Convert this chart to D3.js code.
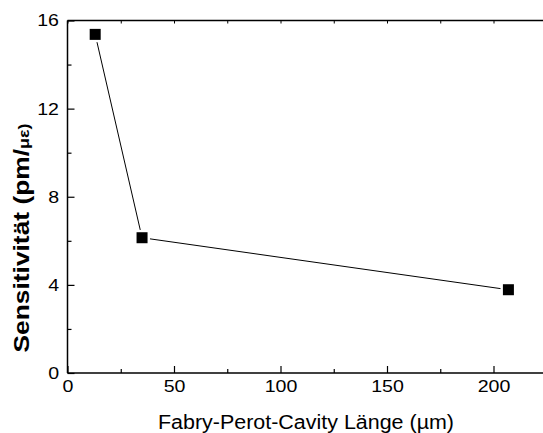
<!DOCTYPE html>
<html><head><meta charset="utf-8">
<script src="https://cdn.jsdelivr.net/npm/d3@7"></script>
<style>body{margin:0;background:#fff}svg{display:block;font-family:"Liberation Sans",Arial,sans-serif}</style>
</head><body><svg id="c" width="543" height="433"></svg>
<script>
const lengths = [13, 35, 207];
const sensitivity = [15.37, 6.14, 3.78];
const xTicks = [0, 50, 100, 150, 200];
const xMinor = [25, 75, 125, 175, 225];
const yTicks = [0, 4, 8, 12, 16];
const yMinor = [2, 6, 10, 14];

const svg = d3.select("#c");
const x = d3.scaleLinear().domain([0, 50]).range([67.5, 174]);
const y = d3.scaleLinear().domain([0, 16]).range([373, 20.5]);
const right = 543;
const FF = "Liberation Sans, Arial, sans-serif";
const stretch = sel => sel.each(function () {
  const w = this.getComputedTextLength();
  d3.select(this).attr("textLength", w * 1.15).attr("lengthAdjust", "spacingAndGlyphs");
});

// axes frame lines
svg.append("line").attr("x1", x(0)).attr("x2", right).attr("y1", y(0)).attr("y2", y(0)).attr("stroke", "#000").attr("stroke-width", 1.5);
svg.append("line").attr("x1", x(0)).attr("x2", right).attr("y1", y(16)).attr("y2", y(16)).attr("stroke", "#000").attr("stroke-width", 1.5);
svg.append("line").attr("x1", x(0)).attr("x2", x(0)).attr("y1", y(0)).attr("y2", y(16)).attr("stroke", "#000").attr("stroke-width", 1.5);

// bottom axis
const gx = svg.append("g").attr("transform", `translate(0,${y(0)})`)
  .call(d3.axisBottom(x).tickValues(xTicks).tickSize(-7).tickPadding(7).tickFormat(d3.format("d")));
gx.select(".domain").remove();
gx.selectAll("text").attr("font-size", 17).attr("fill", "#000").attr("font-family", FF).call(stretch);
gx.selectAll("line").attr("stroke-width", 1.2);
svg.append("g").attr("transform", `translate(0,${y(0)})`)
  .call(d3.axisBottom(x).tickValues(xMinor).tickSize(-4).tickFormat(""))
  .call(g => g.select(".domain").remove()).selectAll("line").attr("stroke-width", 1.2);
// top axis ticks
svg.append("g").attr("transform", `translate(0,${y(16)})`)
  .call(d3.axisTop(x).tickValues(xTicks.concat(xMinor)).tickSize(-3).tickFormat(""))
  .call(g => g.select(".domain").remove()).selectAll("line").attr("stroke-width", 1);

// left axis
const gy = svg.append("g").attr("transform", `translate(${x(0)},0)`)
  .call(d3.axisLeft(y).tickValues(yTicks).tickSize(-7).tickPadding(8.5).tickFormat(d3.format("d")));
gy.select(".domain").remove();
gy.selectAll("text").attr("font-size", 17).attr("fill", "#000").attr("font-family", FF).call(stretch);
gy.selectAll("line").attr("stroke-width", 1.2);
svg.append("g").attr("transform", `translate(${x(0)},0)`)
  .call(d3.axisLeft(y).tickValues(yMinor).tickSize(-4).tickFormat(""))
  .call(g => g.select(".domain").remove()).selectAll("line").attr("stroke-width", 1.2);

// line segments with gaps at markers
const pts = lengths.map((l, i) => [x(l), y(sensitivity[i])]);
const gap = 8;
for (let i = 0; i < pts.length - 1; i++) {
  const [x1, y1] = pts[i], [x2, y2] = pts[i + 1];
  const dx = x2 - x1, dy = y2 - y1, L = Math.hypot(dx, dy);
  const ux = dx / L, uy = dy / L;
  svg.append("line")
    .attr("x1", x1 + ux * gap).attr("y1", y1 + uy * gap)
    .attr("x2", x2 - ux * gap).attr("y2", y2 - uy * gap)
    .attr("stroke", "#000").attr("stroke-width", 1);
}
const ms = 11;
svg.selectAll("rect.m").data(pts).join("rect").attr("class", "m")
  .attr("x", d => d[0] - ms / 2).attr("y", d => d[1] - ms / 2)
  .attr("width", ms).attr("height", ms).attr("fill", "#000");

// axis titles
svg.append("text").attr("x", 306).attr("y", 429).attr("text-anchor", "middle")
  .attr("font-size", 19.5).attr("textLength", 296).attr("lengthAdjust", "spacingAndGlyphs")
  .text("Fabry-Perot-Cavity Länge (µm)");
const yl = svg.append("text").attr("transform", "translate(29,238) rotate(-90)")
  .attr("text-anchor", "middle").attr("font-size", 22).attr("font-weight", "bold")
  .attr("textLength", 229).attr("lengthAdjust", "spacingAndGlyphs");
yl.append("tspan").text("Sensitivität (pm/");
yl.append("tspan").attr("font-size", 15).text("με)");
</script></body></html>
